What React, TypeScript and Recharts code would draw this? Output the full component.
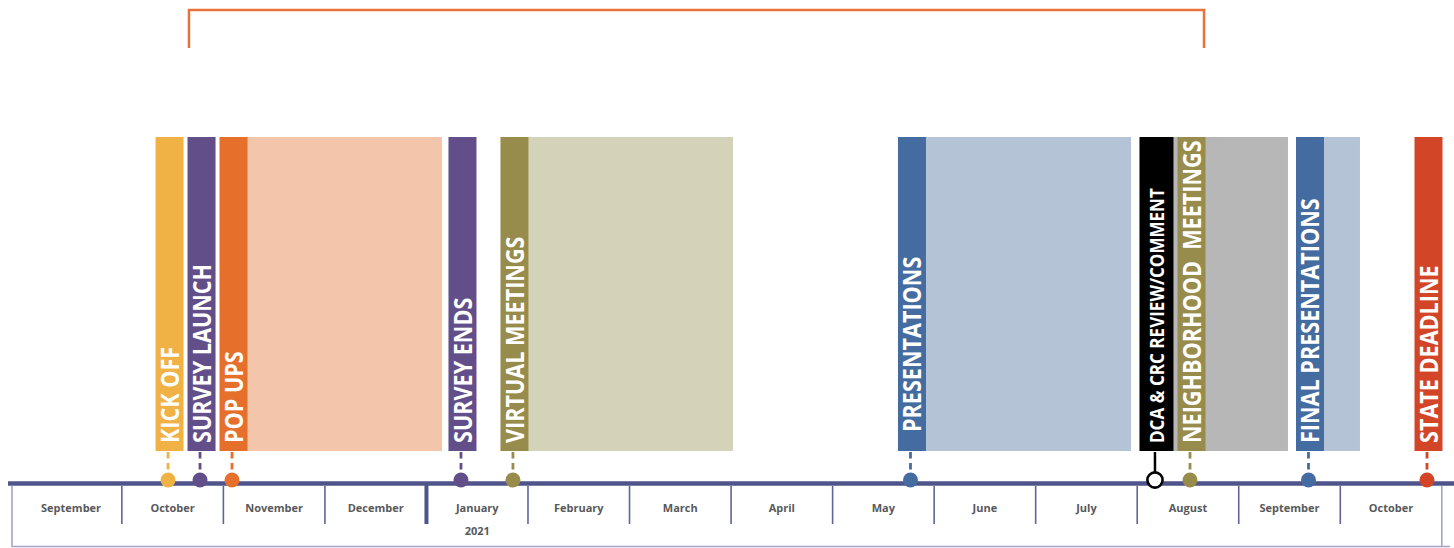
import React from 'react';
import { ComposedChart, XAxis, YAxis, Scatter, Line, ReferenceArea } from 'recharts';

// ---------- DATA (time in months since 1 Sep 2020) ----------
const MONTHS = ['September', 'October', 'November', 'December', 'January', 'February', 'March', 'April', 'May', 'June', 'July', 'August', 'September', 'October'];
const YEAR_LABELS = [{ month: 4, text: '2021' }];

const EVENT_LABELS = ['KICK OFF', 'SURVEY LAUNCH', 'POP UPS', 'SURVEY ENDS', 'VIRTUAL MEETINGS', 'PRESENTATIONS', 'DCA & CRC REVIEW/COMMENT', 'NEIGHBORHOOD  MEETINGS', 'FINAL PRESENTATIONS', 'STATE DEADLINE'];
const EVENT_DATES = [1.455, 1.77, 2.085, 4.34, 4.852, 8.767, 11.175, 11.52, 12.687, 13.854];
const EVENT_END_DATES: (number | null)[] = [null, null, 4.153, null, 7.019, 10.939, 12.485, null, 13.194, null];
const BRACKET_RANGE = [1.661, 11.658];

// ---------- STYLES ----------
const EVENT_COLORS = ['#f0b244', '#624f8a', '#e66f2c', '#624f8a', '#978c4c', '#456ca0', '#000000', '#978c4c', '#456ca0', '#d24527'];
const SPAN_COLORS: (string | null)[] = [null, null, '#f3c5ab', null, '#d5d2ba', '#b4c4d6', '#b7b7b7', null, '#b4c4d6', null];
const EVENT_OVERRIDES: Record<number, any> = {
  5: { labelLift: 11 },
  6: { barWidth: 34, fontSize: 19.5, hollow: true, baseline: 7.7, scale: 0.875 },
};

const W = 1454;
const H = 548;
const X_MIN = -0.2;
const X_MAX = 14.12;
const AXIS_START = -0.121;
const FRAME_LEFT = -0.082;
const FRAME_RIGHT_PAD = 4;

const BAR_TOP = 137;
const BAR_BOTTOM = 451;
const DOT_Y = 480;
const AXIS_Y = 483.5;
const LABEL_BASE_Y = 443;
const BOX_TOP = 486;
const SEP_BOTTOM = 524;
const FRAME_BOTTOM = 546.5;
const MONTH_LABEL_Y = 507;
const YEAR_LABEL_Y = 530;
const BRACKET_TOP = 10;
const BRACKET_BOTTOM = 48;

const AXIS_COLOR = '#4f548a';
const SEP_COLOR = '#60649a';
const FRAME_COLOR = '#a3a5c6';
const MONTH_TEXT = '#58595b';
const BRACKET_COLOR = '#e8733a';
const LABEL_FONT = '"Open Sans", "DejaVu Sans", sans-serif';
const TEXT_SCALE = 0.865;

const events = EVENT_LABELS.map((label, i) => ({
  x: EVENT_DATES[i],
  y: DOT_Y,
  label,
  color: EVENT_COLORS[i],
  barWidth: 28,
  fontSize: 25,
  hollow: false,
  baseline: 9.5,
  labelLift: 0,
  scale: TEXT_SCALE,
  ...(EVENT_OVERRIDES[i] || {}),
}));

const spans = EVENT_LABELS.map((label, i) => ({
  label,
  start: EVENT_DATES[i],
  end: EVENT_END_DATES[i],
  fill: SPAN_COLORS[i],
})).filter((s) => s.end !== null);

const monthLabels = MONTHS.map((name, i) => ({ x: i + 0.5, y: MONTH_LABEL_Y, name }));
const yearLabels = YEAR_LABELS.map((d) => ({ x: d.month + 0.5, y: YEAR_LABEL_Y, name: d.text }));
const separators = [
  { x: FRAME_LEFT, y: BOX_TOP, kind: 'frame' },
  ...MONTHS.slice(1).map((_, i) => ({ x: i + 1, y: BOX_TOP, kind: i + 1 === 4 ? 'year' : 'month' })),
  { x: MONTHS.length, y: BOX_TOP, kind: 'frame' },
];
const rules = [
  { x: AXIS_START, y: AXIS_Y, kind: 'axis' },
  { x: FRAME_LEFT, y: FRAME_BOTTOM, kind: 'frame' },
];
const bracket = [
  { x: BRACKET_RANGE[0], y: BRACKET_BOTTOM },
  { x: BRACKET_RANGE[0], y: BRACKET_TOP },
  { x: BRACKET_RANGE[1], y: BRACKET_TOP },
  { x: BRACKET_RANGE[1], y: BRACKET_BOTTOM },
];

function EventMark(props: any) {
  const { cx, cy, payload } = props;
  const { label, color, barWidth, fontSize, hollow, baseline, labelLift, scale } = payload;
  const top = cy - (DOT_Y - BAR_TOP);
  const bottom = cy - (DOT_Y - BAR_BOTTOM);
  const labelY = cy - (DOT_Y - LABEL_BASE_Y) - labelLift;
  const barCx = cx + 1.5;
  return (
    <g>
      <rect x={barCx - barWidth / 2} y={top} width={barWidth} height={bottom - top} fill={color} />
      <line
        x1={cx}
        x2={cx}
        y1={bottom + 1}
        y2={cy - 7}
        stroke={color}
        strokeWidth={hollow ? 2.5 : 2.8}
        strokeDasharray={hollow ? undefined : '6.5 4.5'}
      />
      {hollow ? (
        <circle cx={cx} cy={cy} r={7.6} fill="#ffffff" stroke={color} strokeWidth={2.6} />
      ) : (
        <circle cx={cx} cy={cy} r={7.5} fill={color} />
      )}
      <text
        transform={`translate(${barCx + baseline},${labelY}) rotate(-90) scale(${scale},1)`}
        fill="#ffffff"
        fontFamily={LABEL_FONT}
        fontWeight={700}
        fontSize={fontSize}
        style={{ whiteSpace: 'pre' }}
      >
        {label}
      </text>
    </g>
  );
}

function Separator(props: any) {
  const { cx, cy, payload } = props;
  if (payload.kind === 'frame') {
    return <line x1={cx} x2={cx} y1={cy} y2={cy + (FRAME_BOTTOM - BOX_TOP) + 0.5} stroke={FRAME_COLOR} strokeWidth={1.6} />;
  }
  const thick = payload.kind === 'year';
  return (
    <line
      x1={cx}
      x2={cx}
      y1={cy - (thick ? 2 : 0)}
      y2={cy + (SEP_BOTTOM - BOX_TOP)}
      stroke={thick ? AXIS_COLOR : SEP_COLOR}
      strokeWidth={thick ? 4 : 1.6}
    />
  );
}

function Rule(props: any) {
  const { cx, cy, payload } = props;
  if (payload.kind === 'axis') {
    return <rect x={cx} y={cy - 2.25} width={W - cx} height={4.5} fill={AXIS_COLOR} />;
  }
  return <line x1={cx} x2={W - FRAME_RIGHT_PAD} y1={cy} y2={cy} stroke={FRAME_COLOR} strokeWidth={1.6} />;
}

function MonthText(props: any) {
  const { cx, cy, payload } = props;
  return (
    <text
      x={cx}
      y={cy}
      textAnchor="middle"
      dominantBaseline="central"
      fill={MONTH_TEXT}
      fontFamily={LABEL_FONT}
      fontWeight={700}
      fontSize={11}
    >
      {payload.name}
    </text>
  );
}

export default function App() {
  return (
    <div style={{ position: 'absolute', left: 0, top: 0, width: W, height: H, background: '#ffffff' }}>
      <ComposedChart width={W} height={H} margin={{ top: 0, right: 0, bottom: 0, left: 0 }}>
        <XAxis type="number" dataKey="x" domain={[X_MIN, X_MAX]} hide allowDataOverflow />
        <YAxis type="number" dataKey="y" domain={[0, H]} reversed hide allowDataOverflow />
        {spans.map((s) => (
          <ReferenceArea
            key={s.label}
            x1={s.start}
            x2={s.end as number}
            y1={BAR_TOP}
            y2={BAR_BOTTOM}
            fill={s.fill as string}
            fillOpacity={1}
            stroke="none"
            ifOverflow="visible"
          />
        ))}
        <Scatter data={separators} shape={<Separator />} isAnimationActive={false} />
        <Scatter data={rules} shape={<Rule />} isAnimationActive={false} />
        <Line data={bracket} dataKey="y" type="linear" stroke={BRACKET_COLOR} strokeWidth={2.5} dot={false} isAnimationActive={false} />
        <Scatter data={monthLabels} shape={<MonthText />} isAnimationActive={false} />
        <Scatter data={yearLabels} shape={<MonthText />} isAnimationActive={false} />
        <Scatter data={events} shape={<EventMark />} isAnimationActive={false} />
      </ComposedChart>
    </div>
  );
}
